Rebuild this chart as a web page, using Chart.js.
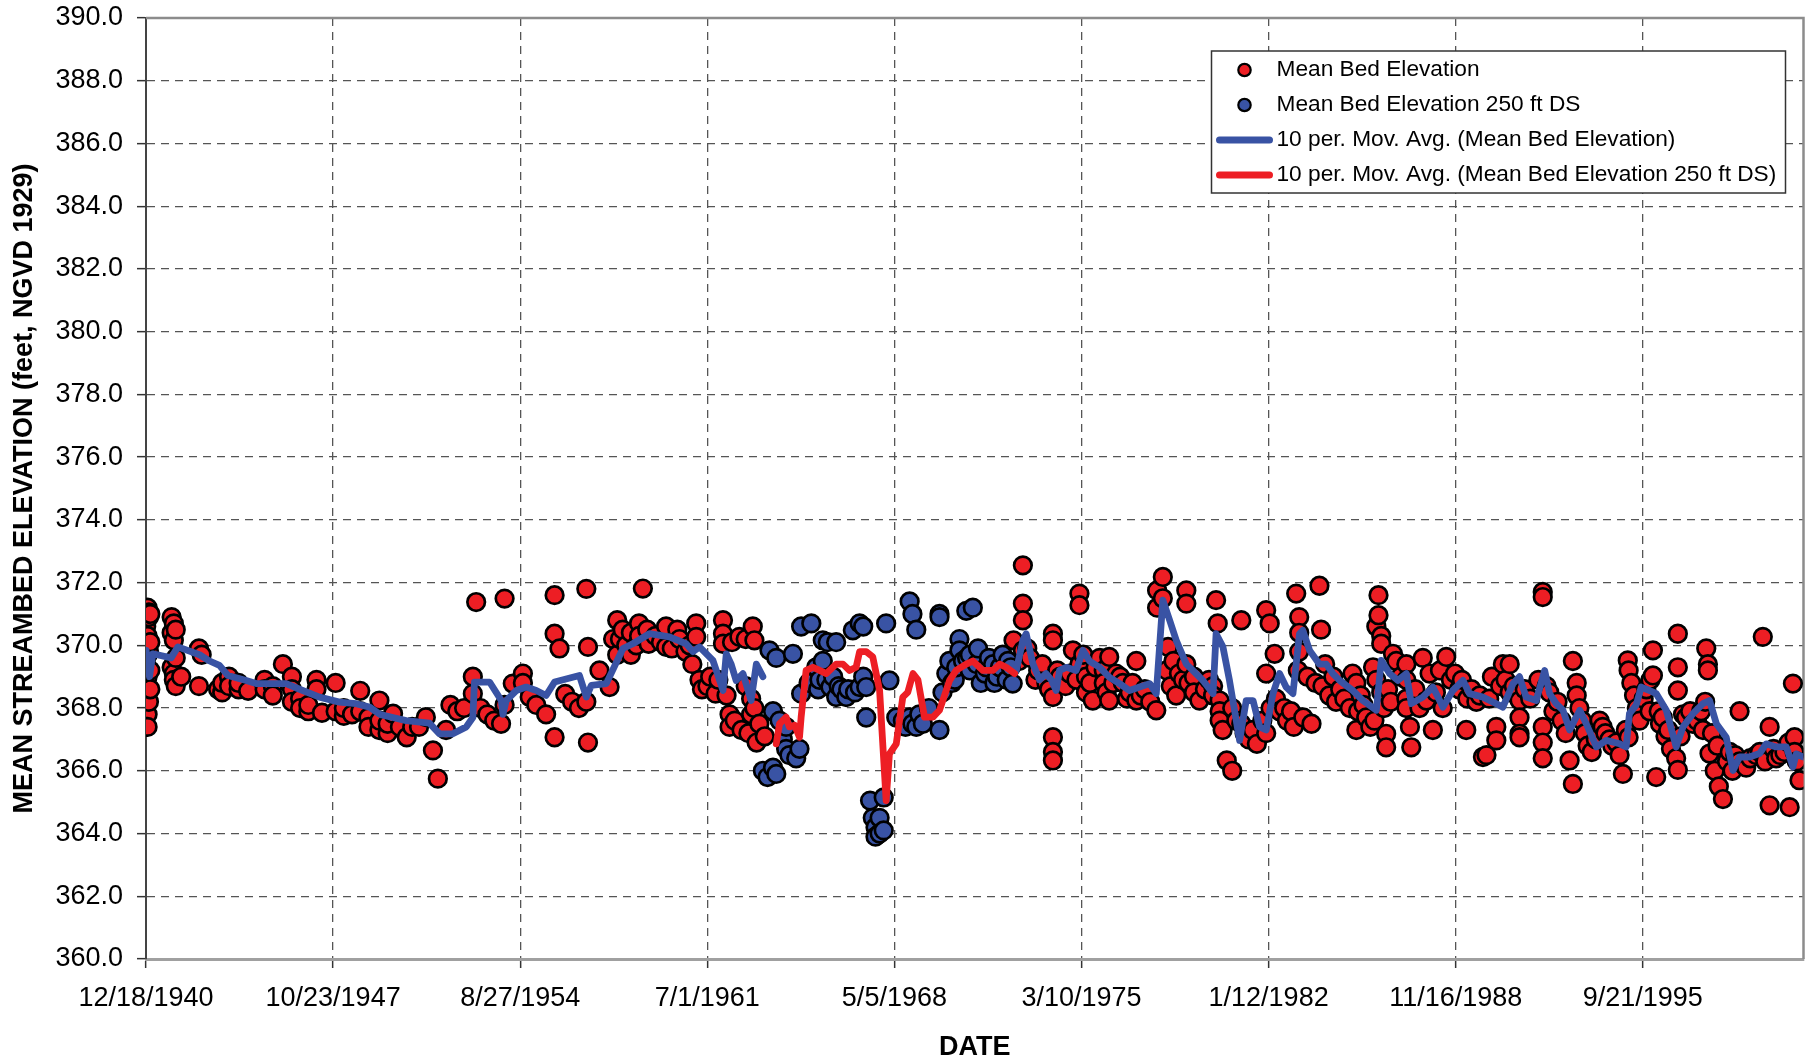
<!DOCTYPE html>
<html>
<head>
<meta charset="utf-8">
<script src="https://cdn.jsdelivr.net/npm/chart.js@4"></script>
<style>
  html, body { margin: 0; padding: 0; background: #fff; }
  #wrap { width: 1815px; height: 1060px; }
</style>
</head>
<body>
<div id="wrap"><canvas id="bedChart" width="1815" height="1060"></canvas></div>
<script>
// date axis labels (Excel style, one every 2500 days)
const dateTicks = ['12/18/1940', '10/23/1947', '8/27/1954', '7/1/1961', '5/5/1968',
                   '3/10/1975', '1/12/1982', '11/16/1988', '9/21/1995'];
const axisEnd = '8/7/2001';
const elevTicks = { min: 360, max: 390, step: 2 };

// Mean Bed Elevation  [decimal year, elevation ft]
const bedPoints = [
  [1940.97, 370.6], [1940.97, 370.0], [1940.97, 369.4], [1940.97, 368.9],
  [1941.02, 371.2], [1941.02, 370.3], [1941.02, 369.7], [1941.02, 369.0], [1941.02, 368.6], [1941.02, 367.8], [1941.02, 367.4],
  [1941.07, 371.05], [1941.07, 370.9], [1941.07, 369.8], [1941.07, 368.2],
  [1941.12, 371.0], [1941.12, 370.1], [1941.12, 369.2], [1941.12, 368.6],
  [1941.9, 370.9], [1941.9, 370.4], [1941.9, 369.3],
  [1941.98, 370.7], [1941.98, 370.16], [1941.98, 369.1], [1941.98, 368.9],
  [1942.05, 370.5], [1942.05, 369.6], [1942.05, 368.7], [1942.25, 369.0],
  [1942.9, 369.9], [1942.9, 368.7], [1943.0, 369.7],
  [1943.6, 368.6], [1943.75, 368.5], [1943.75, 368.8], [1944.0, 369.0], [1944.0, 368.7],
  [1944.35, 368.6], [1944.35, 368.8], [1944.7, 368.55], [1945.3, 368.9], [1945.3, 368.6],
  [1945.6, 368.7], [1945.6, 368.4], [1945.97, 369.4],
  [1946.3, 369.0], [1946.3, 368.6], [1946.3, 368.2], [1946.6, 368.3], [1946.6, 368.0],
  [1946.9, 367.9], [1946.9, 368.1], [1947.2, 368.9], [1947.2, 368.6], [1947.4, 367.85],
  [1947.9, 368.8], [1947.9, 367.9], [1948.2, 367.75], [1948.2, 368.0], [1948.5, 367.8],
  [1948.8, 368.55], [1948.8, 367.9], [1949.1, 367.7], [1949.1, 367.4],
  [1949.5, 367.3], [1949.5, 367.6], [1949.5, 368.24], [1949.8, 367.2], [1949.8, 367.5],
  [1950.0, 367.82], [1950.25, 367.4], [1950.5, 367.07], [1950.7, 367.4], [1950.95, 367.4],
  [1951.2, 367.71], [1951.46, 366.65], [1951.64, 365.75], [1951.94, 367.3],
  [1952.1, 368.1], [1952.35, 367.9], [1952.6, 368.0], [1952.92, 369.0], [1952.92, 368.46],
  [1953.04, 371.38], [1953.2, 368.0], [1953.45, 367.8], [1953.7, 367.6], [1953.95, 367.5],
  [1954.08, 371.49], [1954.08, 368.1], [1954.38, 368.78], [1954.75, 369.1], [1954.75, 368.8],
  [1955.0, 368.35], [1955.24, 368.1], [1955.6, 367.8],
  [1955.91, 371.6], [1955.91, 370.37], [1955.91, 367.07], [1956.09, 369.9],
  [1956.3, 368.45], [1956.55, 368.2], [1956.8, 368.0],
  [1957.07, 371.8], [1957.07, 368.2], [1957.13, 369.95], [1957.13, 366.9],
  [1957.55, 369.2], [1957.92, 368.67], [1958.05, 370.2], [1958.2, 370.8], [1958.2, 369.7],
  [1958.3, 370.2], [1958.4, 370.5], [1958.53, 370.0], [1958.7, 370.4], [1958.7, 369.7], [1958.9, 370.0],
  [1959.0, 370.7], [1959.0, 370.3], [1959.14, 371.81], [1959.3, 370.5], [1959.35, 370.05], [1959.6, 370.3],
  [1959.8, 370.1], [1959.99, 370.6], [1959.99, 369.95], [1960.2, 369.9], [1960.4, 370.5],
  [1960.48, 370.2], [1960.7, 369.8], [1960.85, 370.0], [1960.95, 369.4],
  [1961.09, 370.7], [1961.09, 370.27], [1961.21, 368.9], [1961.3, 368.6], [1961.5, 368.7],
  [1961.6, 369.0], [1961.8, 368.46], [1961.9, 368.9],
  [1962.07, 370.8], [1962.07, 370.37], [1962.07, 370.05], [1962.2, 368.4], [1962.31, 367.8], [1962.31, 367.4],
  [1962.4, 370.1], [1962.5, 367.6], [1962.67, 370.27], [1962.75, 367.3], [1962.9, 370.2], [1962.9, 368.7],
  [1963.0, 367.2], [1963.1, 368.3], [1963.1, 367.8], [1963.16, 370.6], [1963.22, 370.16], [1963.22, 368.0],
  [1963.3, 366.9], [1963.4, 367.5], [1963.6, 367.1],
  [1972.7, 370.16], [1972.9, 369.5], [1973.04, 372.55], [1973.04, 371.33], [1973.04, 370.8], [1973.04, 369.84],
  [1973.2, 369.9], [1973.3, 369.6], [1973.5, 368.9], [1973.6, 369.2], [1973.75, 369.4], [1973.9, 368.8],
  [1974.0, 368.6], [1974.14, 370.37], [1974.14, 370.16], [1974.14, 368.35], [1974.14, 367.07],
  [1974.14, 366.6], [1974.14, 366.33], [1974.3, 369.2], [1974.4, 369.0], [1974.6, 368.7],
  [1974.75, 369.1], [1974.87, 369.84], [1975.0, 368.9], [1975.11, 371.65], [1975.11, 371.28], [1975.11, 369.4],
  [1975.25, 369.7], [1975.35, 369.0], [1975.35, 368.5], [1975.5, 368.8], [1975.6, 368.24], [1975.7, 369.3],
  [1975.85, 369.6], [1976.0, 369.2], [1976.0, 368.8], [1976.1, 368.5], [1976.2, 369.63], [1976.2, 368.24],
  [1976.35, 368.8], [1976.45, 369.1], [1976.6, 369.0], [1976.7, 368.8], [1976.85, 368.3], [1976.95, 368.5],
  [1977.05, 368.8], [1977.19, 369.5], [1977.19, 368.24], [1977.35, 368.4], [1977.5, 368.6], [1977.7, 368.2],
  [1977.92, 367.93], [1977.95, 371.75], [1977.95, 371.2], [1978.16, 372.18], [1978.16, 371.5],
  [1978.3, 369.2], [1978.35, 369.95], [1978.45, 368.7], [1978.55, 369.5], [1978.65, 368.4],
  [1978.75, 369.1], [1978.9, 368.9], [1979.02, 371.75], [1979.02, 371.33], [1979.02, 369.4],
  [1979.1, 368.8], [1979.3, 369.0], [1979.3, 368.5], [1979.5, 368.24], [1979.7, 368.6], [1979.85, 368.9],
  [1980.0, 368.7], [1980.0, 368.4], [1980.11, 371.44], [1980.17, 370.7],
  [1980.24, 368.24], [1980.24, 367.9], [1980.24, 367.6], [1980.35, 367.3], [1980.5, 366.33],
  [1980.7, 366.0], [1980.7, 368.0], [1980.85, 367.6], [1981.03, 370.8], [1981.03, 367.5],
  [1981.15, 367.2], [1981.3, 367.0], [1981.45, 367.3], [1981.6, 366.86], [1981.8, 367.6],
  [1981.94, 371.12], [1981.94, 369.1], [1981.94, 367.2], [1982.07, 370.7], [1982.1, 368.0],
  [1982.25, 369.73], [1982.3, 368.3], [1982.43, 367.9], [1982.6, 368.0], [1982.7, 367.6],
  [1982.85, 367.9], [1982.95, 367.4], [1983.04, 371.65], [1983.1, 369.2],
  [1983.15, 370.9], [1983.15, 370.4], [1983.15, 369.8], [1983.3, 367.7], [1983.45, 369.0], [1983.6, 367.5],
  [1983.75, 368.8], [1983.89, 371.9], [1983.95, 370.5], [1984.0, 368.7], [1984.1, 369.4],
  [1984.25, 368.4], [1984.4, 369.0], [1984.5, 368.2], [1984.65, 368.6],
  [1984.8, 368.3], [1985.0, 368.0], [1985.1, 369.1], [1985.24, 367.3], [1985.24, 368.8], [1985.3, 367.9],
  [1985.4, 368.4], [1985.5, 368.1], [1985.6, 367.7], [1985.75, 367.4], [1985.85, 369.3], [1985.9, 367.6],
  [1985.97, 370.6], [1985.97, 368.9], [1986.05, 371.6], [1986.05, 370.96],
  [1986.15, 370.3], [1986.15, 370.05], [1986.15, 368.5], [1986.25, 368.0],
  [1986.33, 367.18], [1986.33, 366.75], [1986.4, 368.6], [1986.5, 368.2], [1986.58, 369.73],
  [1986.7, 369.5], [1986.85, 369.0],
  [1987.07, 369.4], [1987.07, 368.9], [1987.07, 368.3], [1987.07, 368.0], [1987.2, 367.4], [1987.25, 366.75],
  [1987.4, 368.6], [1987.55, 368.0], [1987.67, 369.6], [1987.8, 368.24], [1987.92, 369.1],
  [1988.04, 367.3], [1988.15, 368.5], [1988.3, 369.2], [1988.4, 368.0], [1988.53, 369.63],
  [1988.7, 368.9], [1988.85, 369.1], [1989.0, 368.6], [1989.1, 368.9], [1989.26, 367.3], [1989.3, 368.3],
  [1989.45, 368.6], [1989.63, 368.2], [1989.75, 368.4], [1989.87, 366.44], [1990.0, 366.5],
  [1990.1, 368.3], [1990.2, 369.0], [1990.36, 367.4], [1990.36, 366.97], [1990.5, 368.7],
  [1990.6, 369.4], [1990.7, 368.9], [1990.85, 369.4], [1990.85, 368.5], [1991.0, 368.7],
  [1991.21, 368.24], [1991.21, 367.7], [1991.21, 367.18], [1991.21, 367.07], [1991.4, 368.6],
  [1991.6, 368.3], [1991.9, 368.9],
  [1992.06, 371.7], [1992.06, 371.54], [1992.06, 367.4], [1992.06, 366.9], [1992.06, 366.4],
  [1992.2, 368.7], [1992.3, 368.5], [1992.45, 367.9], [1992.6, 368.2], [1992.75, 367.6], [1992.9, 367.2],
  [1993.04, 366.33], [1993.16, 369.5], [1993.16, 365.58],
  [1993.3, 368.8], [1993.3, 368.4], [1993.4, 368.0], [1993.5, 367.6], [1993.6, 367.2], [1993.7, 366.8],
  [1993.85, 366.6], [1994.0, 367.0], [1994.14, 367.6], [1994.25, 367.4], [1994.35, 367.2],
  [1994.5, 367.0], [1994.6, 366.8], [1994.75, 366.9], [1994.87, 366.5], [1994.99, 365.9],
  [1995.1, 367.3], [1995.17, 369.52], [1995.2, 369.2], [1995.2, 367.07], [1995.3, 368.8], [1995.4, 368.4],
  [1995.5, 368.0], [1995.6, 367.6], [1995.75, 368.3], [1995.85, 368.6], [1995.97, 367.9], [1996.0, 368.9],
  [1996.09, 369.84], [1996.09, 369.04], [1996.21, 365.8], [1996.3, 367.9], [1996.35, 367.5],
  [1996.45, 367.7], [1996.55, 367.1], [1996.65, 367.3], [1996.75, 366.7], [1996.94, 366.4],
  [1997.0, 370.37], [1997.0, 369.3], [1997.0, 368.56], [1997.0, 366.03], [1997.1, 367.1],
  [1997.19, 367.8], [1997.3, 367.7], [1997.45, 367.9], [1997.55, 367.5], [1997.7, 367.6],
  [1997.85, 367.9], [1997.92, 367.3], [1998.0, 368.2], [1998.04, 369.9], [1998.1, 369.4], [1998.1, 369.2],
  [1998.16, 366.55], [1998.25, 367.2], [1998.35, 366.0], [1998.45, 366.8], [1998.5, 365.5],
  [1998.65, 365.1], [1998.8, 366.3], [1998.9, 366.6], [1999.0, 366.0], [1999.1, 366.5],
  [1999.26, 367.9], [1999.26, 366.3], [1999.4, 366.2], [1999.5, 366.1], [1999.65, 366.4],
  [1999.87, 366.5], [2000.0, 366.6], [2000.11, 370.27], [2000.2, 366.3],
  [2000.36, 367.4], [2000.36, 364.9], [2000.5, 366.7], [2000.6, 366.4], [2000.75, 366.5],
  [2000.9, 366.6], [2001.05, 366.9], [2001.09, 364.84], [2001.21, 368.78],
  [2001.27, 367.07], [2001.27, 366.6], [2001.35, 366.3], [2001.45, 365.7]
];

// Mean Bed Elevation 250 ft DS
const dsPoints = [
  [1963.53, 366.0], [1963.7, 365.8], [1963.77, 369.84], [1963.9, 367.9], [1963.9, 366.1],
  [1964.02, 365.9], [1964.02, 369.6], [1964.14, 367.6], [1964.26, 367.0], [1964.38, 367.4],
  [1964.38, 366.7], [1964.5, 366.5], [1964.63, 369.73], [1964.75, 366.4], [1964.87, 366.7],
  [1964.93, 370.6], [1964.93, 368.46], [1965.2, 368.8], [1965.3, 370.7], [1965.48, 369.3],
  [1965.55, 368.6], [1965.6, 368.9], [1965.72, 370.16], [1965.72, 369.5], [1965.85, 368.9],
  [1965.9, 370.1], [1966.0, 368.67], [1966.1, 369.0], [1966.21, 370.1], [1966.21, 368.35],
  [1966.3, 368.7], [1966.4, 368.6], [1966.58, 368.35], [1966.65, 368.6], [1966.82, 370.48], [1966.9, 368.5],
  [1967.07, 370.7], [1967.07, 368.67], [1967.2, 370.6], [1967.2, 369.0], [1967.31, 367.7], [1967.31, 368.67],
  [1967.45, 365.05], [1967.55, 364.5], [1967.65, 364.2], [1967.65, 363.9], [1967.8, 364.5], [1967.8, 364.0],
  [1967.95, 365.15], [1967.95, 364.1], [1968.04, 370.7], [1968.16, 368.88], [1968.41, 367.7],
  [1968.65, 367.6], [1968.75, 367.4], [1968.9, 371.4], [1968.9, 367.7], [1969.0, 371.0], [1969.0, 367.5],
  [1969.14, 370.5], [1969.14, 367.4], [1969.25, 367.8], [1969.38, 367.5], [1969.6, 368.0],
  [1969.99, 371.0], [1969.99, 370.9], [1969.99, 367.3], [1970.1, 368.5], [1970.24, 369.1],
  [1970.35, 369.5], [1970.45, 368.8], [1970.55, 368.9], [1970.6, 369.3], [1970.72, 370.2],
  [1970.72, 369.84], [1970.85, 369.5], [1970.97, 371.1], [1971.0, 369.6],
  [1971.1, 369.7], [1971.1, 369.2], [1971.21, 371.2], [1971.35, 369.4], [1971.4, 369.9], [1971.5, 368.8],
  [1971.65, 369.1], [1971.7, 369.3], [1971.8, 369.6], [1971.95, 369.4], [1972.0, 368.8], [1972.1, 369.0],
  [1972.2, 369.3], [1972.3, 369.7], [1972.45, 368.9], [1972.5, 369.5], [1972.6, 369.3], [1972.67, 368.78]
];

// 10 per. Mov. Avg. (Mean Bed Elevation)
const bedAvg1 = [
  [1940.97, 369.84], [1941.09, 369.0], [1941.21, 369.73], [1941.88, 369.6], [1942.13, 369.95],
  [1942.92, 369.7], [1943.29, 369.5], [1943.65, 369.36], [1943.96, 369.04], [1944.63, 368.88],
  [1944.99, 368.78], [1946.09, 368.78], [1946.58, 368.6], [1947.31, 368.35], [1948.04, 368.19],
  [1948.65, 368.14], [1949.14, 368.03], [1949.51, 367.8], [1949.99, 367.7], [1950.48, 367.6],
  [1951.33, 367.52], [1951.7, 367.18], [1952.19, 367.18], [1952.68, 367.4], [1952.92, 367.7],
  [1952.98, 368.83], [1953.53, 368.83], [1953.96, 368.24], [1954.02, 367.8], [1954.14, 368.24],
  [1954.51, 368.56], [1954.87, 368.67], [1955.24, 368.56], [1955.6, 368.4], [1955.91, 368.83],
  [1956.82, 369.04], [1957.07, 368.35], [1957.25, 368.72], [1957.8, 368.78], [1958.41, 369.9],
  [1958.77, 370.05], [1959.38, 370.37], [1960.11, 370.27], [1960.72, 370.05], [1960.97, 369.8],
  [1961.21, 369.95], [1961.7, 369.52], [1962.07, 368.56], [1962.19, 369.73], [1962.37, 369.4],
  [1962.55, 368.88], [1962.8, 369.1], [1963.1, 368.24], [1963.29, 369.4], [1963.53, 369.0]
];
const bedAvg2 = [
  [1972.8, 369.2], [1973.04, 370.16], [1973.16, 370.37], [1973.41, 369.4], [1973.65, 368.9],
  [1973.89, 369.1], [1974.08, 368.9], [1974.26, 368.56], [1974.38, 369.2], [1974.63, 369.3],
  [1974.99, 369.2], [1975.24, 369.84], [1975.48, 369.5], [1975.85, 369.3], [1976.21, 368.98],
  [1976.58, 368.78], [1976.94, 368.56], [1977.31, 368.67], [1977.68, 368.78], [1977.92, 368.46],
  [1978.16, 371.44], [1978.41, 370.8], [1978.65, 370.16], [1979.02, 369.4], [1979.26, 369.2],
  [1979.63, 368.88], [1980.0, 368.46], [1980.11, 370.37], [1980.36, 369.95], [1980.6, 368.88],
  [1980.97, 366.97], [1981.21, 368.24], [1981.46, 368.24], [1981.7, 367.4], [1981.94, 367.3],
  [1982.19, 368.46], [1982.43, 369.1], [1982.67, 368.67], [1982.92, 368.46], [1983.16, 370.37],
  [1983.28, 370.48], [1983.53, 369.84], [1983.89, 369.4], [1984.14, 369.4], [1984.38, 369.1],
  [1984.63, 368.88], [1985.11, 368.56], [1985.48, 368.24], [1985.97, 367.93], [1986.15, 369.52],
  [1986.46, 369.1], [1986.76, 368.88], [1987.07, 369.1], [1987.25, 368.14], [1987.67, 368.35],
  [1988.04, 368.67], [1988.41, 368.03], [1988.77, 368.56], [1989.14, 368.88], [1989.38, 368.46],
  [1989.87, 368.35], [1990.36, 368.14], [1990.6, 368.03], [1990.97, 368.78], [1991.21, 369.0],
  [1991.45, 368.35], [1991.82, 368.24], [1992.13, 369.2], [1992.31, 368.46], [1992.55, 368.14],
  [1992.8, 367.93], [1993.04, 367.3], [1993.41, 367.93], [1993.65, 367.5], [1994.02, 366.76],
  [1994.38, 366.97], [1994.87, 366.86], [1995.11, 366.76], [1995.23, 367.82], [1995.48, 368.1],
  [1995.66, 368.67], [1995.97, 368.56], [1996.21, 368.46], [1996.58, 367.93], [1996.94, 366.76],
  [1997.19, 367.4], [1997.55, 367.82], [1997.92, 368.14], [1998.16, 368.24], [1998.41, 367.5],
  [1998.77, 367.07], [1999.02, 366.01], [1999.26, 366.44], [1999.62, 366.44], [1999.99, 366.55],
  [2000.23, 366.86], [2000.6, 366.76], [2000.97, 366.76], [2001.21, 366.12], [2001.33, 366.54],
  [2001.58, 366.44]
];

// 10 per. Mov. Avg. (Mean Bed Elevation 250 ft DS)
const dsAvg = [
  [1964.02, 366.86], [1964.14, 367.5], [1964.38, 367.71], [1964.5, 367.4], [1964.69, 367.45],
  [1964.87, 367.07], [1964.93, 367.71], [1965.11, 369.2], [1965.36, 369.3], [1965.6, 369.2],
  [1965.85, 369.1], [1966.21, 369.4], [1966.46, 369.4], [1966.7, 369.2], [1966.94, 369.3],
  [1967.07, 369.8], [1967.31, 369.8], [1967.55, 369.63], [1967.8, 368.56], [1968.04, 365.05],
  [1968.16, 366.54], [1968.41, 366.86], [1968.65, 368.35], [1968.83, 368.5], [1969.02, 369.1],
  [1969.2, 368.9], [1969.44, 367.71], [1969.75, 367.71], [1969.99, 367.93], [1970.36, 368.88],
  [1970.6, 369.2], [1970.97, 369.4], [1971.21, 369.5], [1971.58, 369.2], [1971.94, 369.2],
  [1972.19, 369.4], [1972.43, 369.3], [1972.74, 369.1]
];

const RED = 'rgb(237, 30, 36)';
const BLUE = 'rgb(57, 83, 164)';
const FONT = '"Liberation Sans", Arial, sans-serif';

function dateToSerial(s) {
  const p = s.split('/').map(Number);
  return Math.round((Date.UTC(p[2], p[0] - 1, p[1]) - Date.UTC(1899, 11, 30)) / 86400000);
}
function yearToSerial(y) {
  const whole = Math.floor(y);
  return dateToSerial('1/1/' + whole) + (y - whole) * 365.25;
}
function serialToLabel(v) {
  const d = new Date(Date.UTC(1899, 11, 30) + Math.round(v) * 86400000);
  return (d.getUTCMonth() + 1) + '/' + d.getUTCDate() + '/' + d.getUTCFullYear();
}
const toXY = pts => pts.map(p => ({ x: yearToSerial(p[0]), y: p[1] }));

// plot frame: top and right edges in grey
const plotFrame = {
  id: 'plotFrame',
  beforeDatasetsDraw(chart) {
    const { ctx, chartArea: a } = chart;
    ctx.save();
    ctx.strokeStyle = '#8c8c8c';
    ctx.lineWidth = 2.5;
    ctx.beginPath();
    ctx.moveTo(a.left, a.top);
    ctx.lineTo(a.right, a.top);
    ctx.lineTo(a.right, a.bottom);
    ctx.stroke();
    ctx.restore();
  }
};

// boxed legend inside the plot, top right
const boxLegend = {
  id: 'boxLegend',
  afterDraw(chart) {
    const { ctx, chartArea: a } = chart;
    const x0 = a.right - 592, y0 = a.top + 33, w = 574, h = 142;
    ctx.save();
    ctx.fillStyle = '#fff';
    ctx.fillRect(x0, y0, w, h);
    ctx.strokeStyle = '#333';
    ctx.lineWidth = 1.5;
    ctx.strokeRect(x0, y0, w, h);
    ctx.font = '22.7px ' + FONT;
    ctx.textBaseline = 'middle';
    chart.data.datasets.forEach(ds => {
      if (ds.legendSkip) return;
      const y = y0 + 19 + ds.legendRow * 35;
      if (ds.showLine) {
        ctx.strokeStyle = ds.borderColor;
        ctx.lineWidth = 7;
        ctx.lineCap = 'round';
        ctx.beginPath();
        ctx.moveTo(x0 + 8, y);
        ctx.lineTo(x0 + 58, y);
        ctx.stroke();
      } else {
        ctx.fillStyle = ds.backgroundColor;
        ctx.strokeStyle = '#000';
        ctx.lineWidth = 2.2;
        ctx.beginPath();
        ctx.arc(x0 + 33, y, 6.2, 0, Math.PI * 2);
        ctx.fill();
        ctx.stroke();
      }
      ctx.fillStyle = '#000';
      ctx.fillText(ds.label, x0 + 65, y);
    });
    ctx.restore();
  }
};

const pointStyle = color => ({
  backgroundColor: color,
  borderColor: '#000',
  borderWidth: 2.7,
  pointRadius: 8.8,
  showLine: false
});
const lineStyle = color => ({
  borderColor: color,
  backgroundColor: color,
  borderWidth: 6.8,
  pointRadius: 0,
  showLine: true,
  tension: 0,
  borderJoinStyle: 'round',
  borderCapStyle: 'round'
});

new Chart(document.getElementById('bedChart'), {
  type: 'scatter',
  data: {
    datasets: [
      Object.assign({ label: 'Mean Bed Elevation', data: toXY(bedPoints), order: 3, legendRow: 0 }, pointStyle(RED)),
      Object.assign({ label: 'Mean Bed Elevation 250 ft DS', data: toXY(dsPoints), order: 2, legendRow: 1 }, pointStyle(BLUE)),
      Object.assign({ label: '10 per. Mov. Avg. (Mean Bed Elevation)', data: toXY(bedAvg1), order: 1, legendRow: 2 }, lineStyle(BLUE)),
      Object.assign({ label: '10 per. Mov. Avg. (Mean Bed Elevation)', data: toXY(bedAvg2), order: 1, legendSkip: true }, lineStyle(BLUE)),
      Object.assign({ label: '10 per. Mov. Avg. (Mean Bed Elevation 250 ft DS)', data: toXY(dsAvg), order: 0, legendRow: 3 }, lineStyle(RED))
    ]
  },
  options: {
    responsive: false,
    animation: false,
    devicePixelRatio: 1,
    events: [],
    layout: { padding: { top: 18, right: 11, left: 0, bottom: 0 } },
    plugins: {
      legend: { display: false },
      tooltip: { enabled: false }
    },
    scales: {
      x: {
        type: 'linear',
        min: dateToSerial(dateTicks[0]),
        max: dateToSerial(axisEnd),
        afterBuildTicks: s => { s.ticks = dateTicks.map(t => ({ value: dateToSerial(t) })); },
        afterFit: s => { s.height = 101; },
        ticks: {
          callback: v => serialToLabel(v),
          color: '#000',
          font: { family: FONT, size: 27 },
          padding: 14,
          maxRotation: 0,
          autoSkip: false
        },
        grid: { color: '#555', lineWidth: 1.3, tickLength: 9, tickColor: '#333', tickWidth: 1.5 },
        border: { display: true, color: '#a0a0a0', width: 3, dash: [8, 6] },
        title: {
          display: true,
          text: 'DATE',
          color: '#000',
          font: { family: FONT, size: 27, weight: 'bold', lineHeight: 0.9 },
          padding: { top: 0, bottom: 0 }
        }
      },
      y: {
        min: elevTicks.min,
        max: elevTicks.max,
        afterFit: s => { s.width = 146; },
        ticks: {
          stepSize: elevTicks.step,
          callback: v => v.toFixed(1),
          color: '#000',
          font: { family: FONT, size: 27, lineHeight: 0.25 },
          padding: 14
        },
        grid: { color: '#555', lineWidth: 1.3, tickLength: 9, tickColor: '#333', tickWidth: 1.5 },
        border: { display: true, color: '#444', width: 2, dash: [8, 6] },
        title: {
          display: true,
          text: 'MEAN STREAMBED ELEVATION (feet, NGVD 1929)',
          color: '#000',
          font: { family: FONT, size: 27, weight: 'bold', lineHeight: 1 },
          padding: { top: 11, bottom: 0 }
        }
      }
    }
  },
  plugins: [plotFrame, boxLegend]
});
</script>
</body>
</html>
